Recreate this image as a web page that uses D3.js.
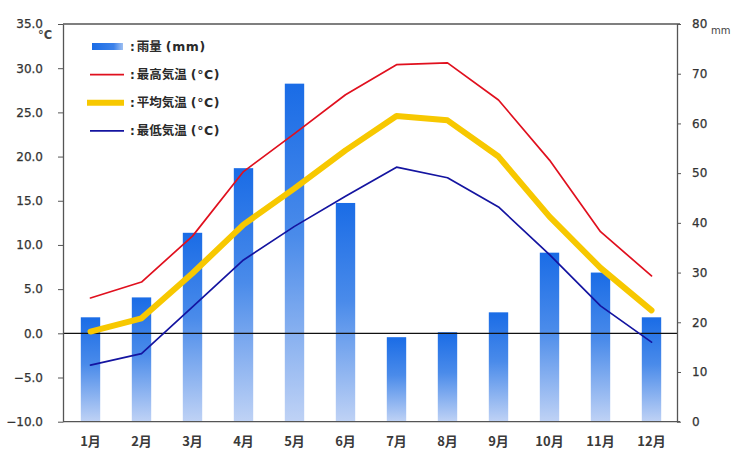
<!DOCTYPE html>
<html>
<head>
<meta charset="utf-8">
<script src="https://cdn.jsdelivr.net/npm/d3@7"></script>
<style>
  html, body { margin: 0; padding: 0; background: #fff; }
  svg { display: block; }
</style>
</head>
<body>
<svg id="chart" width="732" height="454"></svg>
<script>
// Monthly climate data
const months = ["1月","2月","3月","4月","5月","6月","7月","8月","9月","10月","11月","12月"];
const rainfall = [21, 25, 38, 51, 68, 44, 17, 18, 22, 34, 30, 21];            // mm
const maxTemp  = [4.0, 5.8, 11.0, 18.3, 22.6, 27.0, 30.4, 30.6, 26.4, 19.6, 11.5, 6.5];
const avgTemp  = [0.2, 1.7, 6.8, 12.3, 16.4, 20.7, 24.6, 24.1, 20.0, 13.2, 7.4, 2.6];
const minTemp  = [-3.6, -2.3, 3.0, 8.3, 12.1, 15.5, 18.8, 17.6, 14.3, 8.9, 3.1, -1.0];
const tempTicks = [-10, -5, 0, 5, 10, 15, 20, 25, 30, 35];
const rainTicks = [0, 10, 20, 30, 40, 50, 60, 70, 80];
const legendItems = [
  { name: "雨量", unit: "(mm)", kind: "bar" },
  { name: "最高気温", unit: "(°C)", kind: "max" },
  { name: "平均気温", unit: "(°C)", kind: "avg" },
  { name: "最低気温", unit: "(°C)", kind: "min" }
];

const svg = d3.select("#chart");
const plotLeft = 63, plotRight = 677, plotTop = 24, plotBottom = 421.7;

const x = d3.scaleBand().domain(months).range([65, plotRight])
  .paddingInner(0.62).paddingOuter(0.31);
const yT = d3.scaleLinear().domain([-10, 35]).range([plotBottom, plotTop]);
const yR = d3.scaleLinear().domain([0, 80]).range([plotBottom, plotTop]);
const cx = m => x(m) + x.bandwidth() / 2;

// Bar gradients
const defs = svg.append("defs");
const grad = defs.append("linearGradient").attr("id", "barGrad")
  .attr("x1", 0).attr("y1", 0).attr("x2", 0).attr("y2", 1);
grad.append("stop").attr("offset", "0%").attr("stop-color", "#1a6ce6");
grad.append("stop").attr("offset", "45%").attr("stop-color", "#4a8bea");
grad.append("stop").attr("offset", "100%").attr("stop-color", "#bfd2f5");
const gradH = defs.append("linearGradient").attr("id", "barGradH")
  .attr("x1", 0).attr("y1", 0).attr("x2", 1).attr("y2", 0);
gradH.append("stop").attr("offset", "0%").attr("stop-color", "#1a6ce6");
gradH.append("stop").attr("offset", "70%").attr("stop-color", "#3d82ea");
gradH.append("stop").attr("offset", "100%").attr("stop-color", "#9fc0f2");

// Rainfall bars
svg.append("g").selectAll("rect").data(rainfall).join("rect")
  .attr("x", (d, i) => x(months[i]))
  .attr("y", d => yR(d))
  .attr("width", x.bandwidth())
  .attr("height", d => yR(0) - yR(d))
  .attr("fill", "url(#barGrad)");

// Zero line
svg.append("line")
  .attr("x1", plotLeft).attr("x2", plotRight)
  .attr("y1", yT(0)).attr("y2", yT(0))
  .attr("stroke", "#111").attr("stroke-width", 1.2);

// Temperature lines
const line = d3.line().x((d, i) => cx(months[i])).y(d => yT(d));
const series = [
  { data: avgTemp, color: "#f7c800", width: 6 },
  { data: maxTemp, color: "#e0101e", width: 1.7 },
  { data: minTemp, color: "#1414a0", width: 1.7 }
];
series.forEach(s => {
  svg.append("path").datum(s.data)
    .attr("d", line)
    .attr("fill", "none")
    .attr("stroke", s.color)
    .attr("stroke-width", s.width)
    .attr("stroke-linejoin", "round")
    .attr("stroke-linecap", "round");
});

// Frame (top and bottom borders)
svg.append("line").attr("x1", plotLeft).attr("x2", plotRight + 3).attr("y1", plotTop).attr("y2", plotTop)
  .attr("stroke", "#555").attr("stroke-width", 1.3);
svg.append("line").attr("x1", plotLeft).attr("x2", plotRight + 3).attr("y1", plotBottom).attr("y2", plotBottom)
  .attr("stroke", "#555").attr("stroke-width", 1.3);

// Axes
const axisL = svg.append("g").attr("transform", `translate(${plotLeft},0)`)
  .call(d3.axisLeft(yT).tickValues(tempTicks).tickFormat(d3.format(".1f"))
    .tickSize(5).tickSizeOuter(0).tickPadding(15));
const axisR = svg.append("g").attr("transform", `translate(${plotRight},0)`)
  .call(d3.axisRight(yR).tickValues(rainTicks).tickFormat(d3.format("d"))
    .tickSize(4).tickSizeOuter(0).tickPadding(11));
[axisL, axisR].forEach(a => {
  a.select(".domain").attr("stroke", "#555").attr("stroke-width", 1.3);
  a.selectAll(".tick line").attr("stroke", "#555");
  a.selectAll(".tick text")
    .attr("font-family", "'DejaVu Sans', sans-serif")
    .attr("font-size", 12)
    .attr("fill", "#333")
    .attr("stroke", "#333").attr("stroke-width", 0.25);
});

// Unit labels
svg.append("text").attr("x", 38).attr("y", 39)
  .attr("font-family", "'DejaVu Sans', sans-serif").attr("font-size", 11.5)
  .attr("font-weight", "bold").attr("fill", "#444").text("°C");
svg.append("text").attr("x", 711).attr("y", 34)
  .attr("font-family", "'DejaVu Sans', sans-serif").attr("font-size", 10)
  .attr("fill", "#444").text("mm");

// Month labels
svg.append("g").selectAll("text").data(months).join("text")
  .attr("x", d => cx(d))
  .attr("y", 446)
  .attr("text-anchor", "middle")
  .attr("font-family", "'Noto Sans CJK JP', sans-serif")
  .attr("font-size", 13)
  .attr("font-weight", "bold")
  .attr("fill", "#3a3a3a")
  .text(d => d);

// Legend
const lg = svg.append("g");
legendItems.forEach((item, i) => {
  const yy = 46.5 + i * 28.1;
  if (item.kind === "bar") {
    lg.append("rect").attr("x", 92).attr("y", yy - 3.5).attr("width", 31).attr("height", 7)
      .attr("fill", "url(#barGradH)");
  } else {
    const s = item.kind === "max" ? series[1] : item.kind === "avg" ? series[0] : series[2];
    lg.append("line").attr("x1", item.kind === "avg" ? 87 : 90).attr("x2", 124)
      .attr("y1", yy).attr("y2", yy)
      .attr("stroke", s.color).attr("stroke-width", item.kind === "avg" ? 6 : 1.8);
  }
  const t = lg.append("text").attr("x", 130).attr("y", yy + 4.5)
    .attr("fill", "#2a2a2a").attr("font-weight", "bold");
  t.append("tspan").attr("font-family", "'DejaVu Sans', sans-serif").attr("font-size", 12)
    .text(":");
  t.append("tspan").attr("dx", 2).attr("font-family", "'Noto Sans CJK JP', sans-serif")
    .attr("font-size", 12.5).text(item.name);
  t.append("tspan").attr("dx", 4).attr("font-family", "'DejaVu Sans', sans-serif")
    .attr("font-size", 12.5).attr("letter-spacing", 0.6).text(item.unit);
});
</script>
</body>
</html>
